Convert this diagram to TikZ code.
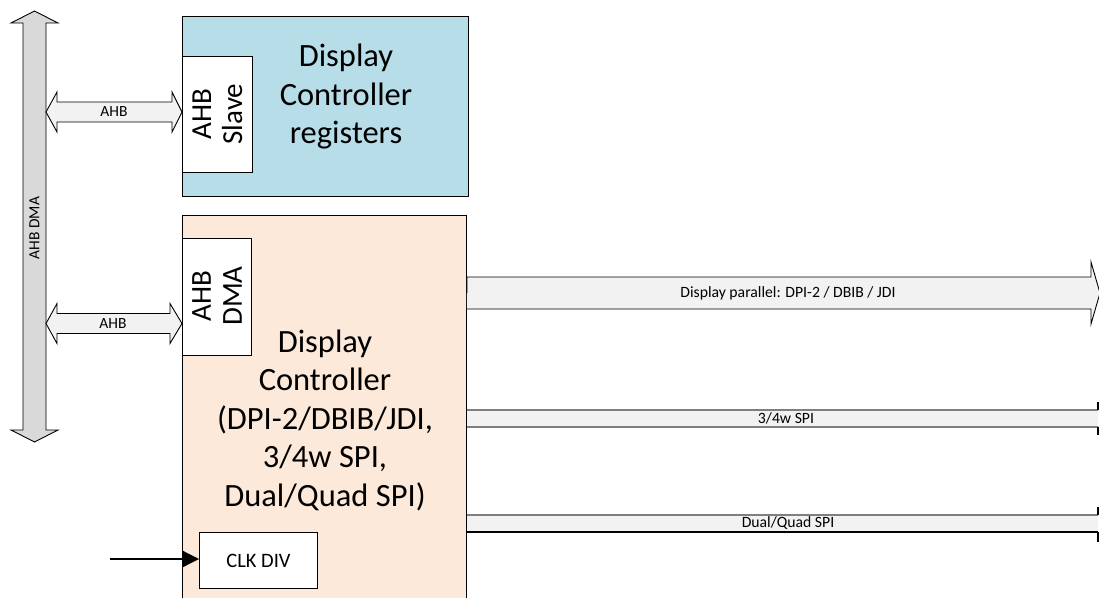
\documentclass[tikz,border=0pt]{standalone}
\usepackage{fontspec}
\setmainfont{Carlito}
\usetikzlibrary{calc,arrows.meta}
\definecolor{regblue}{HTML}{B7DEE8}
\definecolor{ctrlorange}{HTML}{FCE9DA}
\definecolor{busgray}{HTML}{D9D9D9}
\definecolor{arrgray}{HTML}{F2F2F2}
\definecolor{edgegray}{HTML}{7F7F7F}
\tikzset{
  blk/.style={draw=black, line width=0.9pt, inner sep=0pt, anchor=north west},
  port/.style={draw=black, line width=0.9pt, fill=white, inner sep=0pt, anchor=north west},
  bigtxt/.style={font=\fontsize{32.5}{38.5}\selectfont, align=center, inner sep=0pt},
  porttxt/.style={font=\fontsize{29}{31}\selectfont, align=center, inner sep=0pt, rotate=90},
  smalltxt/.style={font=\fontsize{15.5}{17}\selectfont, inner sep=0pt},
  tinytxt/.style={font=\fontsize{15.7}{17}\selectfont, inner sep=0pt},
  fatarrow/.style={draw=black, line width=0.9pt, fill=arrgray, line join=miter},
}
\begin{document}
\begin{tikzpicture}[x=1pt,y=-1pt]
\clip (0,0) rectangle (1099,597);
\fill[white] (0,0) rectangle (1099,597);

% ---------- big AHB DMA bus (vertical double arrow)
\coordinate (bustop) at (34.5,11);
\coordinate (busbot) at (34.5,442);
\draw[draw=black, line width=0.9pt, fill=busgray, line join=miter]
  (bustop) -- ($(bustop)+(23.5,12)$) -- ($(bustop)+(11.5,12)$)
  -- ($(busbot)+(11.5,-12)$) -- ($(busbot)+(23.5,-12)$) -- (busbot)
  -- ($(busbot)+(-23.5,-12)$) -- ($(busbot)+(-11.5,-12)$)
  -- ($(bustop)+(-11.5,12)$) -- ($(bustop)+(-23.5,12)$) -- cycle;
\node[font=\fontsize{15.5}{17}\selectfont, inner sep=0pt, rotate=90] (buslabel) at (34.5,228) {AHB DMA};
\coordinate (bus) at (46,0);

% ---------- register block
\node[blk, fill=regblue, minimum width=286pt, minimum height=180pt] (reg) at (182,16) {};
\node[port, minimum width=70pt, minimum height=116pt] (slave) at (182,56) {};
\node[porttxt] (slavetxt) at (217.5,114) {AHB\\Slave};
\node[bigtxt] (regtxt) at (346,97) {Display\\Controller\\registers};

% ---------- controller block
\node[blk, fill=ctrlorange, minimum width=284pt, minimum height=400pt] (ctrl) at (182,215) {};
\node[port, minimum width=69pt, minimum height=117pt] (dma) at (182,238) {};
\node[porttxt] (dmatxt) at (217,296) {AHB\\DMA};
\node[bigtxt] (ctrltxt) at (325,420) {Display\\Controller\\(DPI-2/DBIB/JDI,\\3/4w SPI,\\Dual/Quad SPI)};
\node[port, minimum width=118pt, minimum height=56pt] (clk) at (199,532) {};
\node[font=\fontsize{20.5}{24}\selectfont, inner sep=0pt] (clktxt) at (clk.center) {CLK DIV};
\coordinate (clkin) at (110,559);
\draw[line width=1.2pt, -{Triangle[length=16pt,width=16pt]}] (clkin) -- (clkin -| clk.west);

% ---------- AHB arrows between bus and blocks
\coordinate (a1l) at (bus |- 0,112);
\coordinate (a1r) at (slave.west |- a1l);
\draw[fatarrow] (a1l) -- ($(a1l)+(11,-20)$) -- ($(a1l)+(11,-10)$) -- ($(a1r)+(-10,-10)$)
  -- ($(a1r)+(-10,-20)$) -- (a1r) -- ($(a1r)+(-10,20)$) -- ($(a1r)+(-10,10)$)
  -- ($(a1l)+(11,10)$) -- ($(a1l)+(11,20)$) -- cycle;
\node[smalltxt] (a1txt) at (114,112) {AHB};

\coordinate (a2l) at (bus |- 0,323.5);
\coordinate (a2r) at (dma.west |- a2l);
\draw[fatarrow] (a2l) -- ($(a2l)+(11,-20)$) -- ($(a2l)+(11,-10)$) -- ($(a2r)+(-12,-10)$)
  -- ($(a2r)+(-12,-20)$) -- (a2r) -- ($(a2r)+(-12,20)$) -- ($(a2r)+(-12,10)$)
  -- ($(a2l)+(11,10)$) -- ($(a2l)+(11,20)$) -- cycle;
\node[smalltxt] (a2txt) at (113,323.5) {AHB};

% ---------- output arrows
\coordinate (o1s) at (ctrl.east |- 0,293);
\coordinate (o1e) at (1100,293);
\draw[fatarrow] (o1s) -- ($(o1s)+(0,-16)$) -- ($(o1e)+(-9,-16)$) -- ($(o1e)+(-9,-31)$)
  -- (o1e) -- ($(o1e)+(-9,31)$) -- ($(o1e)+(-9,16)$) -- ($(o1s)+(0,16)$);
\node[tinytxt] (o1txt) at (788,293) {Display parallel: DPI-2 / DBIB / JDI};

\coordinate (o2s) at (ctrl.east |- 0,418.5);
\coordinate (o2e) at (1110,418.5);
\fill[arrgray] ($(o2s)+(0,-8.5)$) rectangle ($(o2e)+(-12,8.5)$);
\draw[edgegray, line width=1.2pt] ($(o2s)+(0,-8.5)$) -- ($(o2e)+(-12,-8.5)$);
\draw[edgegray, line width=1.2pt] ($(o2s)+(0,8.5)$) -- ($(o2e)+(-12,8.5)$);
\draw[line width=1.2pt] ($(o2e)+(-12,-16.5)$) -- ($(o2e)+(-12,-8.5)$) ($(o2e)+(-12,8.5)$) -- ($(o2e)+(-12,16.5)$);
\node[tinytxt] (o2txt) at (786,418) {3/4w SPI};

\coordinate (o3s) at (ctrl.east |- 0,523.5);
\coordinate (o3e) at (1110,523.5);
\fill[arrgray] ($(o3s)+(0,-8.5)$) rectangle ($(o3e)+(-12,8.5)$);
\draw[edgegray, line width=1.2pt] ($(o3s)+(0,-8.5)$) -- ($(o3e)+(-12,-8.5)$);
\draw[line width=1.2pt] ($(o3s)+(0,8.5)$) -- ($(o3e)+(-12,8.5)$);
\draw[line width=1.2pt] ($(o3e)+(-12,-16.5)$) -- ($(o3e)+(-12,-8.5)$) ($(o3e)+(-12,8.5)$) -- ($(o3e)+(-12,18.5)$);
\node[tinytxt] (o3txt) at (788,523) {Dual/Quad SPI};
\end{tikzpicture}
\end{document}
